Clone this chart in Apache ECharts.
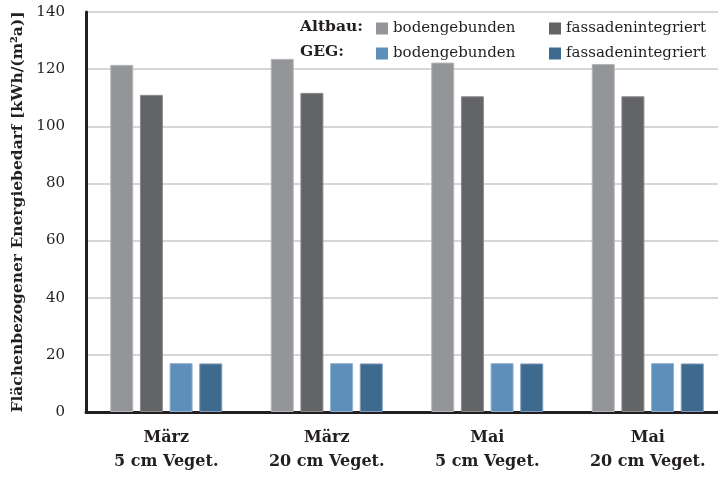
<!DOCTYPE html>
<html>
<head>
<meta charset="utf-8">
<script src="https://cdn.jsdelivr.net/npm/echarts@6/dist/echarts.min.js"></script>
<style>html,body{margin:0;padding:0;background:#fff}#c{width:718px;height:478px}</style>
</head>
<body>
<div id="c"></div>
<script>
const categories = ['März\n5 cm Veget.', 'März\n20 cm Veget.', 'Mai\n5 cm Veget.', 'Mai\n20 cm Veget.'];
const altbauBoden = [121.5, 123.6, 122.3, 121.8];
const altbauFassade = [111.0, 111.7, 110.5, 110.5];
const gegBoden = [17.1, 17.1, 17.1, 17.1];
const gegFassade = [17.0, 17.0, 17.0, 17.0];
const yTicks = [0, 20, 40, 60, 80, 100, 120, 140];

const FONT = 'DejaVu Serif';
const TXT = '#231f20';
const chart = echarts.init(document.getElementById('c'), null, {renderer: 'canvas'});

function mkSeries(name, data, color, border) {
  return {
    name: name, type: 'bar', data: data, barWidth: 23, barGap: '29%',
    itemStyle: {color: color, borderColor: border, borderWidth: 1},
    emphasis: {disabled: true}
  };
}
function mkLegend(name, left, top) {
  return {
    data: [name], left: left, top: top, itemWidth: 12, itemHeight: 12, itemGap: 0,
    icon: 'rect', padding: 0,
    itemStyle: {borderWidth: 0},
    formatter: n => n.split(' ')[1],
    textStyle: {fontFamily: FONT, fontSize: 15, color: TXT}
  };
}

chart.setOption({
  animation: false,
  backgroundColor: '#fff',
  grid: {left: 86, right: -10, top: 12, bottom: 66, containLabel: false, outerBoundsMode: 'none'},
  legend: [
    mkLegend('Altbau bodengebunden', 376, 21),
    mkLegend('Altbau fassadenintegriert', 549, 21),
    mkLegend('GEG bodengebunden', 376, 46),
    mkLegend('GEG fassadenintegriert', 549, 46)
  ],
  graphic: [
    {type: 'text', x: 300, y: 27, style: {text: 'Altbau:', font: 'bold 15.5px "DejaVu Serif"', fill: TXT, verticalAlign: 'middle'}},
    {type: 'text', x: 300, y: 52, style: {text: 'GEG:', font: 'bold 15.5px "DejaVu Serif"', fill: TXT, verticalAlign: 'middle'}}
  ],
  xAxis: {
    type: 'category', data: categories,
    axisLine: {lineStyle: {color: TXT, width: 3}},
    axisTick: {show: false},
    axisLabel: {fontFamily: FONT, fontWeight: 'bold', fontSize: 16, color: TXT, lineHeight: 24, margin: 14}
  },
  yAxis: {
    type: 'value', min: 0, max: 140, interval: 20,
    name: 'Flächenbezogener Energiebedarf [kWh/(m²a)]',
    nameLocation: 'middle', nameGap: 58, nameRotate: 90,
    nameTextStyle: {fontFamily: FONT, fontWeight: 'bold', fontSize: 15.5, color: TXT},
    axisLine: {show: true, lineStyle: {color: TXT, width: 3}},
    axisTick: {show: false},
    axisLabel: {fontFamily: FONT, fontSize: 15, color: TXT, margin: 21,
      formatter: v => yTicks.includes(v) ? String(v) : ''},
    splitLine: {lineStyle: {color: '#c8c8c8', width: 1.5}}
  },
  series: [
    mkSeries('Altbau bodengebunden', altbauBoden, '#939598', '#b4b6b8'),
    mkSeries('Altbau fassadenintegriert', altbauFassade, '#636466', '#8a8b8d'),
    mkSeries('GEG bodengebunden', gegBoden, '#5d8fba', '#8fb2d0'),
    mkSeries('GEG fassadenintegriert', gegFassade, '#3f6a90', '#7d9cb8')
  ]
});
</script>
</body>
</html>
